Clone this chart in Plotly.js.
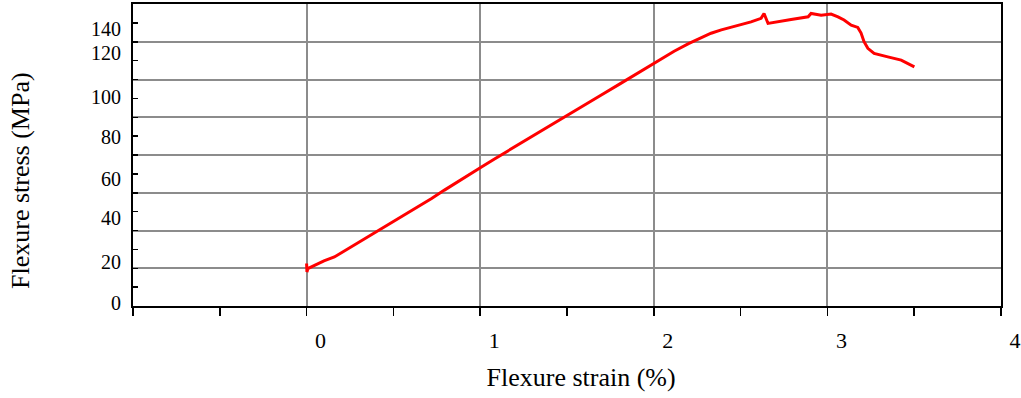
<!DOCTYPE html>
<html>
<head>
<meta charset="utf-8">
<script src="https://cdn.plot.ly/plotly-3.0.1.min.js"></script>
<style>
  html, body { margin: 0; padding: 0; background: #fff; }
  #chart { width: 1021px; height: 398px; }
</style>
</head>
<body>
<div id="chart"></div>
<script>
// Flexure strain (%)
const strain = [0.000, 0.002, 0.007, 0.05, 0.10, 0.16, 0.25, 0.353, 0.41, 0.468, 0.55, 0.641, 0.72, 0.794,
  0.90, 1.005, 1.08, 1.159, 1.24, 1.312, 1.40, 1.50, 1.60, 1.70, 1.80, 1.90, 2.003,
  2.117, 2.20, 2.272, 2.33, 2.389, 2.45, 2.503, 2.56, 2.618, 2.635, 2.658, 2.693, 2.791, 2.889, 2.906, 2.964,
  3.021, 3.061, 3.096, 3.137, 3.175, 3.194, 3.211, 3.233, 3.269, 3.348, 3.425, 3.501];
// Flexure stress (MPa)
const stress = [22.5, 18.0, 19.8, 21.8, 23.9, 26.0, 31.0, 36.5, 39.6, 42.8, 47.3, 52.3, 56.9, 61.4,
  67.3, 73.5, 77.8, 82.2, 86.7, 90.6, 95.5, 101.0, 106.4, 111.9, 117.4, 123.0, 128.5,
  135.0, 139.0, 142.2, 144.5, 146.3, 147.7, 148.9, 150.5, 152.4, 155.0, 149.7, 150.3, 151.8, 153.2, 155.0, 154.1,
  154.7, 153.2, 151.5, 148.8, 147.6, 144.6, 140.0, 136.5, 133.8, 132.0, 130.3, 126.7];

// Tick labels
const xTickVals = [0, 1, 2, 3, 4];
const xTickText = ['0', '1', '2', '3', '4'];
const yTickText = ['0', '20', '40', '60', '80', '100', '120', '140'];
// where the original chart printed its stress labels (in stress units, they drift off the grid)
const yLabelAt = [1.4, 23.2, 46.5, 67.2, 89.5, 110.7, 134.0, 146.8];

const serif = 'Liberation Serif, Times New Roman, serif';

const trace = {
  x: strain, y: stress, type: 'scatter', mode: 'lines',
  line: { color: '#ff0000', width: 3 },
  hoverinfo: 'x+y', showlegend: false
};

const layout = {
  width: 1021, height: 398,
  margin: { l: 133, r: 20, t: 4, b: 92.3, pad: 0 },
  paper_bgcolor: '#ffffff', plot_bgcolor: 'rgba(0,0,0,0)',
  font: { family: serif, color: '#000000' },
  showlegend: false,
  xaxis: {
    range: [-1, 4], fixedrange: true,
    tickmode: 'array', tickvals: xTickVals, ticktext: xTickText,
    ticks: 'outside', ticklen: 8, tickwidth: 1.5, tickcolor: '#000',
    ticklabelshift: 14, ticklabelstandoff: 6,
    tickfont: { family: serif, size: 22, color: '#000' },
    showgrid: true, gridcolor: '#8c8c8c', gridwidth: 2,
    showline: true, linecolor: '#000', linewidth: 2, mirror: true,
    zeroline: false,
    minor: { tick0: -1, dtick: 0.5, ticks: 'outside', ticklen: 8, tickwidth: 1.5, tickcolor: '#000', showgrid: false }
  },
  yaxis: {
    range: [0, 160], fixedrange: true,
    tickmode: 'linear', tick0: 0, dtick: 20,
    ticks: 'inside', ticklen: 5, tickwidth: 1.5, tickcolor: '#000',
    showticklabels: false,
    showgrid: true, gridcolor: '#8c8c8c', gridwidth: 2,
    showline: true, linecolor: '#000', linewidth: 2, mirror: true,
    zeroline: false,
    minor: { dtick: 10, ticks: 'inside', ticklen: 5, tickwidth: 1.5, tickcolor: '#000', showgrid: false }
  },
  yaxis2: {
    overlaying: 'y', side: 'left', range: [0, 160], fixedrange: true,
    tickmode: 'array', tickvals: yLabelAt, ticktext: yTickText,
    ticks: '', showgrid: false, showline: false, zeroline: false,
    ticklabelstandoff: 11,
    tickfont: { family: serif, size: 20, color: '#000' }
  },
  // title-only axes: the original's titles sit a little off the plot centre
  xaxis3: {
    domain: [0.0325, 1], anchor: 'y3', range: [0, 1], fixedrange: true,
    showticklabels: false, ticks: '', showgrid: false, showline: false, zeroline: false,
    title: { text: 'Flexure strain (%)', font: { family: serif, size: 26, color: '#000' }, standoff: 61 }
  },
  yaxis3: {
    domain: [0, 0.83], anchor: 'x3', range: [0, 1], fixedrange: true,
    showticklabels: false, ticks: '', showgrid: false, showline: false, zeroline: false,
    title: { text: 'Flexure stress (MPa)', font: { family: serif, size: 26, color: '#000' }, standoff: 123 }
  }
};

// helper traces so the label / title axes are drawn
const labelTrace = { x: [null], y: [null], yaxis: 'y2', type: 'scatter', mode: 'lines', showlegend: false, hoverinfo: 'skip' };
const titleTrace = { x: [null], y: [null], xaxis: 'x3', yaxis: 'y3', type: 'scatter', mode: 'lines', showlegend: false, hoverinfo: 'skip' };

Plotly.newPlot('chart', [trace, labelTrace, titleTrace], layout, { displayModeBar: false, staticPlot: true });
</script>
</body>
</html>
